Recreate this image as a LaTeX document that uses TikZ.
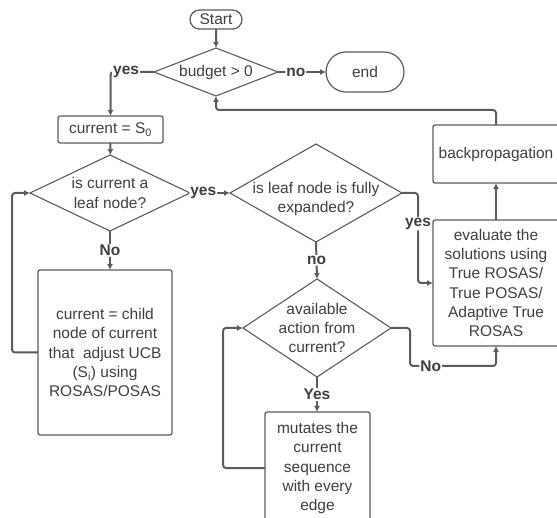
\documentclass[tikz,border=0pt]{standalone}
\usepackage{fontspec}
\setmainfont{Liberation Sans}
\usepackage{tikz}
\usetikzlibrary{arrows.meta}
\usetikzlibrary{calc}
\usetikzlibrary{shapes}
\usetikzlibrary{positioning}
\definecolor{inkgray}{HTML}{3F3F3F}
\definecolor{linegray}{HTML}{5C5C5C}
\tikzset{>={Latex[length=6pt,width=6pt]}}

\begin{document}
\begin{tikzpicture}[x=1pt,y=-1pt,
    every node/.style={text=inkgray,font=\fontsize{15.5}{19.3}\selectfont,align=center,inner sep=0pt,outer sep=0pt},
    term/.style={draw=linegray,line width=1.2pt,rounded rectangle},
    box/.style={draw=linegray,line width=1.2pt,rounded corners=2pt},
    decision/.style={draw=linegray,line width=1.1pt,diamond},
    flow/.style={->,draw=linegray,line width=2pt,rounded corners=3pt},
    lbl/.style={fill=white,font=\fontsize{15.5}{19.3}\selectfont\bfseries,inner sep=1pt}]
  \clip (0,0) rectangle (557,518);

  \draw node[term,minimum width=52,minimum height=19] at (216,19.5) (start) {Start};
  \draw node[decision,minimum width=124,minimum height=48] at (216,72) (budget) {};
  \draw node at (budget) (budgettxt) {budget > 0};
  \draw node[term,minimum width=78,minimum height=40] at (365,72) (end) {end};

  \draw node[box,minimum width=105,minimum height=27] at (110.5,129.5) (current) {current = S\textsubscript{0}};
  \draw node[decision,minimum width=160,minimum height=76] at (110,193) (leaf) {};
  \draw node at (leaf) (leaftxt) {is current a\\leaf node?};
  \draw node[box,minimum width=134,minimum height=165] at (105,352.5) (child) {current = child\\node of current\\that\ \ adjust UCB\\(S\textsubscript{i}) using\\ROSAS/POSAS};

  \draw node[decision,minimum width=172,minimum height=98] at (316,193) (full) {};
  \draw node[yshift=-6pt] at (full) (fulltxt) {is leaf node is fully\\expanded?};
  \draw node[decision,minimum width=148,minimum height=98] at (317,328) (avail) {};
  \draw node at (avail) (availtxt) {available\\action from\\current?};
  \draw node[box,minimum width=105,minimum height=112] at (317.5,468) (mutate) {mutates the\\current\\sequence\\with every\\edge};

  \draw node[box,minimum width=126,minimum height=126] at (496,283) (eval) {evaluate the\\solutions using\\True ROSAS/\\True POSAS/\\Adaptive True\\ROSAS};
  \draw node[box,minimum width=126,minimum height=58] at (496,154) (back) {backpropagation};

  % connectors
  \draw[flow] (start) -- (budget);
  \draw[flow] (budget.west) -| node[lbl,pos=0.32] {yes} (current.north);
  \draw[flow] (budget.east) -- node[lbl,pos=0.37] {no} (end.west);
  \draw[flow] (back.north) -- ++(0,-15) -| (budget.south);
  \draw[flow] (current) -- (leaf);
  \draw[flow] (leaf.east) -- node[lbl,pos=0.33] {yes} (full.west);
  \draw[flow] (leaf.south) -- node[lbl] {No} (leaf.south |- child.north);
  \draw[flow] (child.west) -- ++(-26,0) |- (leaf.west);
  \draw[flow] (full.east) -- ++(16,0) |- node[lbl,pos=0.17] {yes} (eval.west);
  \draw[flow] (full.south) -- node[lbl] {no} (avail.north);
  \draw[flow] (avail.east) -- ++(19,0) |- node[lbl,pos=0.62] {No} ($(eval.south)+(0,20)$) -- (eval.south);
  \draw[flow] (eval) -- (back);
  \draw[flow] (avail.south) -- node[lbl] {Yes} (avail.south |- mutate.north);
  \draw[flow] (mutate.west) -- ++(-42,0) |- (avail.west);

\end{tikzpicture}
\end{document}
